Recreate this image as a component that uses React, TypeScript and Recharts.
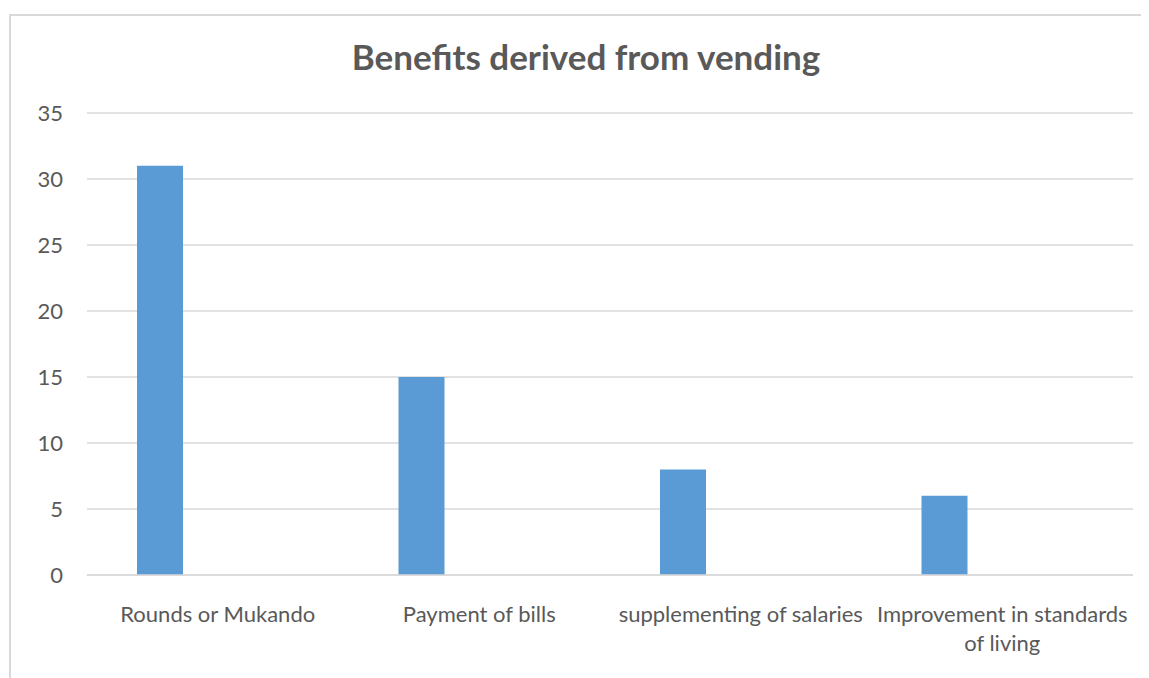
import React from "react";
import { BarChart, Bar, XAxis, YAxis, CartesianGrid } from "recharts";

const categories = [
  "Rounds or Mukando",
  "Payment of bills",
  "supplementing of salaries",
  "Improvement in standards\nof living",
];
const seriesValues = [31, 15, 8, 6];
const emptySeries: (number | null)[] = [null, null, null, null];
const yTicks = [0, 5, 10, 15, 20, 25, 30, 35];
const title = "Benefits derived from vending";

const data = categories.map((c, i) => ({
  name: c,
  value: seriesValues[i],
  empty: emptySeries[i],
}));

const FONT = "Lato, 'Open Sans', sans-serif";
const TEXT = "#595959";
const GRID = "#d9d9d9";

const XTick = (props: any) => {
  const { x, y, payload } = props;
  const lines = String(payload.value).split("\n");
  return (
    <text
      x={x}
      y={y}
      textAnchor="middle"
      fill={TEXT}
      fontSize={22}
      fontFamily={FONT}
    >
      {lines.map((l, i) => (
        <tspan key={i} x={x} dy={i === 0 ? 15.6 : 29.5}>
          {l}
        </tspan>
      ))}
    </text>
  );
};

export default function App() {
  return (
    <div
      style={{
        position: "relative",
        marginLeft: 1,
        marginTop: 6,
        width: 1150,
        height: 670,
        border: `2px solid ${GRID}`,
        background: "#fff",
      }}
    >
      <div
        style={{
          position: "absolute",
          left: 0,
          top: 20,
          width: 1150,
          textAlign: "center",
          fontFamily: FONT,
          fontWeight: 700,
          fontSize: 35,
          lineHeight: "40px",
          color: TEXT,
        }}
      >
        {title}
      </div>
      <BarChart
        width={1150}
        height={670}
        data={data}
        margin={{ top: 97, right: 28, bottom: 31, left: 0 }}
        barGap={69.5}
      >
        <CartesianGrid vertical={false} stroke={GRID} strokeWidth={1.5} />
        <XAxis
          dataKey="name"
          axisLine={{ stroke: GRID, strokeWidth: 1.5 }}
          tickLine={false}
          tickSize={0}
          tickMargin={31}
          height={80}
          interval={0}
          tick={<XTick />}
        />
        <YAxis
          domain={[0, 35]}
          ticks={yTicks}
          width={76}
          axisLine={false}
          tickLine={false}
          tickSize={0}
          tickMargin={24}
          tick={{ fill: TEXT, fontSize: 22, fontFamily: FONT }}
        />
        <Bar dataKey="value" fill="#5b9bd5" barSize={46} isAnimationActive={false} />
        <Bar dataKey="empty" fill="#ed7d31" barSize={46} isAnimationActive={false} />
      </BarChart>
    </div>
  );
}
